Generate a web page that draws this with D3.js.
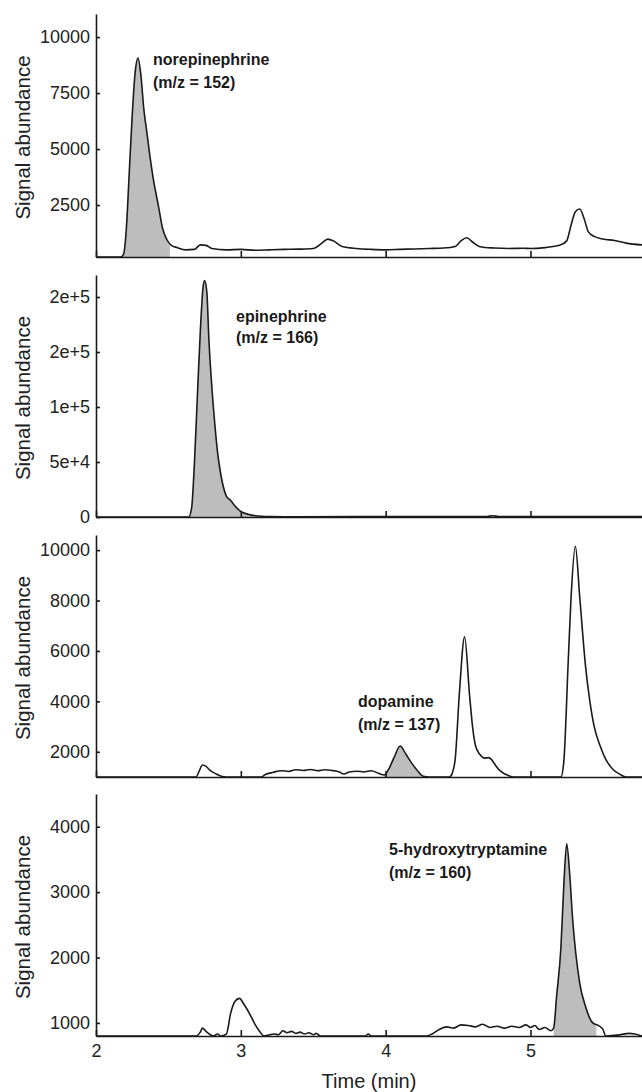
<!DOCTYPE html>
<html>
<head>
<meta charset="utf-8">
<script src="https://cdn.jsdelivr.net/npm/d3@7"></script>
<style>
  body { margin: 0; background: #fff; }
  svg { display: block; font-family: "Liberation Sans", Arial, sans-serif; }
</style>
</head>
<body>
<svg id="chart" width="642" height="1092"></svg>
<script>
// --- Data: time (min) vs signal abundance ---
const neTime = [2.00, 2.17, 2.19, 2.21, 2.23, 2.25, 2.27, 2.29, 2.31, 2.33, 2.35, 2.37, 2.40, 2.43, 2.46, 2.49, 2.52, 2.56, 2.62, 2.68, 2.72, 2.76, 2.80, 2.90, 3.00, 3.10, 3.20, 3.30, 3.40, 3.50, 3.56, 3.60, 3.64, 3.70, 3.80, 3.90, 4.00, 4.10, 4.20, 4.30, 4.40, 4.48, 4.52, 4.56, 4.60, 4.65, 4.75, 4.85, 4.95, 5.00, 5.10, 5.20, 5.25, 5.28, 5.31, 5.34, 5.37, 5.40, 5.44, 5.50, 5.58, 5.66, 5.77];
const neSignal = [180, 180, 300, 1500, 4000, 6500, 8400, 9060, 8300, 6800, 5800, 4800, 3500, 2500, 1450, 950, 700, 600, 500, 520, 720, 700, 560, 500, 520, 480, 500, 520, 530, 560, 800, 980, 900, 650, 560, 520, 500, 520, 540, 560, 580, 650, 900, 1040, 850, 640, 580, 560, 570, 560, 600, 700, 900, 1600, 2200, 2320, 1900, 1300, 1100, 980, 920, 800, 720];

const epiTime = [2.00, 2.64, 2.66, 2.68, 2.70, 2.72, 2.74, 2.75, 2.765, 2.78, 2.80, 2.82, 2.84, 2.86, 2.88, 2.90, 2.93, 2.96, 3.00, 3.05, 3.10, 3.20, 3.40, 3.80, 4.20, 4.70, 4.74, 4.78, 5.20, 5.77];
const epiSignal = [0, 0, 8000, 50000, 110000, 168000, 210000, 215000, 205000, 160000, 118000, 85000, 58000, 40000, 27000, 19000, 15000, 10000, 5000, 2500, 1200, 500, 200, 300, 300, 400, 1200, 400, 400, 400];

const daTime = [2.00, 2.69, 2.71, 2.735, 2.76, 2.79, 2.83, 2.87, 2.90, 3.14, 3.17, 3.22, 3.28, 3.33, 3.38, 3.43, 3.48, 3.53, 3.58, 3.63, 3.68, 3.71, 3.75, 3.80, 3.85, 3.90, 3.95, 3.99, 4.02, 4.06, 4.10, 4.14, 4.18, 4.22, 4.26, 4.30, 4.44, 4.46, 4.48, 4.51, 4.545, 4.58, 4.60, 4.62, 4.65, 4.68, 4.71, 4.73, 4.76, 4.80, 4.85, 4.88, 5.21, 5.23, 5.26, 5.28, 5.31, 5.34, 5.38, 5.41, 5.44, 5.48, 5.52, 5.57, 5.62, 5.66, 5.77];
const daSignal = [1000, 1000, 1200, 1475, 1420, 1250, 1120, 1020, 1000, 1000, 1100, 1180, 1250, 1220, 1290, 1260, 1300, 1250, 1290, 1260, 1200, 1120, 1200, 1230, 1200, 1250, 1150, 1080, 1300, 1800, 2230, 1900, 1550, 1250, 1030, 1000, 1000, 1150, 1700, 4400, 6560, 4200, 3000, 2250, 1900, 1750, 1770, 1700, 1450, 1200, 1050, 1000, 1000, 1600, 5500, 8100, 10150, 8140, 5400, 4000, 3000, 2250, 1700, 1300, 1100, 1000, 1000];

const htTime = [2.00, 2.69, 2.72, 2.735, 2.76, 2.79, 2.81, 2.84, 2.86, 2.90, 2.93, 2.96, 2.99, 3.02, 3.04, 3.07, 3.10, 3.13, 3.16, 3.20, 3.23, 3.26, 3.29, 3.32, 3.35, 3.38, 3.41, 3.44, 3.47, 3.50, 3.52, 3.55, 3.86, 3.88, 3.90, 4.28, 4.32, 4.37, 4.42, 4.47, 4.52, 4.57, 4.62, 4.67, 4.72, 4.77, 4.82, 4.87, 4.92, 4.97, 5.00, 5.03, 5.06, 5.10, 5.14, 5.16, 5.18, 5.21, 5.23, 5.25, 5.27, 5.29, 5.34, 5.38, 5.43, 5.47, 5.50, 5.52, 5.62, 5.68, 5.72, 5.77];
const htSignal = [800, 800, 860, 920, 870, 820, 800, 830, 800, 830, 1150, 1330, 1375, 1290, 1220, 1100, 970, 870, 800, 820, 830, 820, 880, 850, 870, 840, 860, 830, 850, 820, 840, 800, 800, 830, 800, 800, 830, 900, 940, 920, 970, 960, 940, 980, 930, 950, 920, 950, 930, 970, 930, 960, 900, 930, 880, 920, 1400, 2150, 3100, 3740, 3300, 2620, 1610, 1250, 1000, 960, 900, 800, 820, 840, 830, 800];

// shaded (integrated) peak windows, min
const neShade = [2.18, 2.51];
const epiShade = [2.64, 3.12];
const daShade = [3.99, 4.27];
const htShade = [5.16, 5.455];

// axis ticks
const timeTicks = [2, 3, 4, 5];
const neTicks = [2500, 5000, 7500, 10000];
const epiTicks = [0, 50000, 100000, 150000, 200000];
const epiTickLabels = ['0', '5e+4', '1e+5', '2e+5', '2e+5'];
const daTicks = [2000, 4000, 6000, 8000, 10000];
const htTicks = [1000, 2000, 3000, 4000];

const compounds = ['norepinephrine', 'epinephrine', 'dopamine', '5-hydroxytryptamine'];
const mzLabels = ['(m/z = 152)', '(m/z = 166)', '(m/z = 137)', '(m/z = 160)'];

// --- Layout ---
const svg = d3.select('#chart');
const AXIS_X = 96;
const x = d3.scaleLinear().domain([2, 5.77]).range([AXIS_X, 642]);

const panels = [
    { time: neTime, signal: neSignal, shade: neShade, ticks: neTicks, domain: [180, 11030], top: 14, bottom: 257, label: [153, 65, 88] },
    { time: epiTime, signal: epiSignal, shade: epiShade, ticks: epiTicks, tickLabels: epiTickLabels, domain: [0, 220000], top: 275, bottom: 517, label: [236, 322, 343] },
    { time: daTime, signal: daSignal, shade: daShade, ticks: daTicks, domain: [1000, 10600], top: 535, bottom: 777, label: [358, 707, 730] },
    { time: htTime, signal: htSignal, shade: htShade, ticks: htTicks, domain: [800, 4500], top: 794, bottom: 1036, label: [389, 855, 878] }
];

panels.forEach((p, i) => {
    const y = d3.scaleLinear().domain(p.domain).range([p.bottom, p.top]);
    const pts = p.time.map((t, k) => ({ t, v: p.signal[k] }));
    const g = svg.append('g');

    // clip for shaded peak
    g.append('clipPath').attr('id', `shade${i}`)
        .append('rect')
        .attr('x', x(p.shade[0])).attr('y', p.top)
        .attr('width', x(p.shade[1]) - x(p.shade[0])).attr('height', p.bottom - p.top);

    const area = d3.area()
        .x(d => x(d.t)).y0(y(p.domain[0])).y1(d => y(d.v))
        .curve(d3.curveMonotoneX);
    g.append('path').datum(pts)
        .attr('d', area)
        .attr('fill', '#bdbdbd')
        .attr('clip-path', `url(#shade${i})`);

    const line = d3.line().x(d => x(d.t)).y(d => y(d.v)).curve(d3.curveMonotoneX);
    g.append('path').datum(pts)
        .attr('d', line)
        .attr('fill', 'none')
        .attr('stroke', '#1a1a1a')
        .attr('stroke-width', 1.6);

    // axes
    const yAxis = d3.axisLeft(y)
        .tickValues(p.ticks)
        .tickFormat((d, k) => p.tickLabels ? p.tickLabels[k] : d)
        .tickSize(-4).tickSizeOuter(0).tickPadding(6);
    const ya = g.append('g').attr('transform', `translate(${AXIS_X},0)`).call(yAxis);

    const last = i === panels.length - 1;
    const xAxis = d3.axisBottom(x)
        .tickValues(timeTicks)
        .tickFormat(last ? d3.format('d') : '')
        .tickSize(-6).tickSizeOuter(0).tickPadding(8);
    const xa = g.append('g').attr('transform', `translate(0,${p.bottom})`).call(xAxis);

    [ya, xa].forEach(a => {
        a.selectAll('path, line').attr('stroke', '#1a1a1a').attr('stroke-width', 1.6);
        a.selectAll('text').attr('font-size', 18).attr('fill', '#222')
            .attr('font-family', '"Liberation Sans", Arial, sans-serif');
    });

    // y title
    g.append('text')
        .attr('transform', `translate(30,${(p.top + p.bottom) / 2 + 2}) rotate(-90)`)
        .attr('text-anchor', 'middle')
        .attr('font-size', 20.5)
        .attr('fill', '#222')
        .text('Signal abundance');

    // compound annotation
    const lab = g.append('text')
        .attr('font-size', 16)
        .attr('font-weight', 'bold')
        .attr('fill', '#1a1a1a');
    lab.append('tspan').attr('x', p.label[0]).attr('y', p.label[1]).text(compounds[i]);
    lab.append('tspan').attr('x', p.label[0]).attr('y', p.label[2]).text(mzLabels[i]);
});

svg.append('text')
    .attr('x', (AXIS_X + 642) / 2)
    .attr('y', 1088)
    .attr('text-anchor', 'middle')
    .attr('font-size', 20)
    .attr('fill', '#222')
    .text('Time (min)');
</script>
</body>
</html>
